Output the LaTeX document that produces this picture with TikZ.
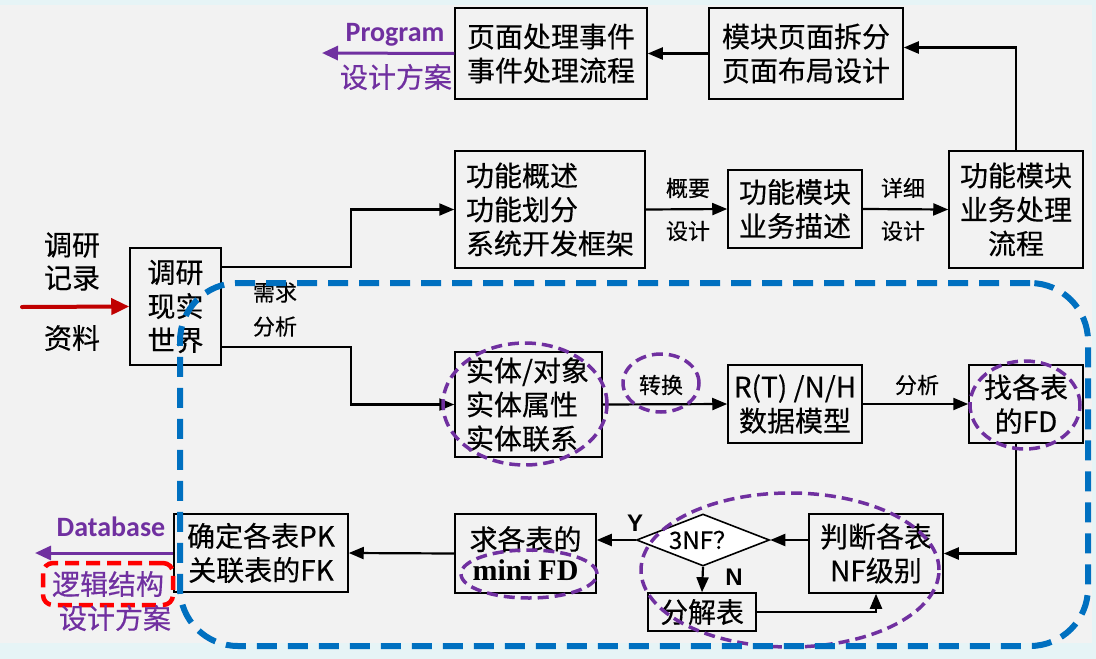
\documentclass[tikz,border=0pt]{standalone}
\usepackage{fontspec}
\setmainfont{Noto Sans CJK SC}[FakeBold=0.4]
\newfontfamily\engb{Carlito}
\newfontfamily\serifb{Liberation Serif}
\newfontfamily\arialb{Liberation Sans}
\usetikzlibrary{arrows.meta, shapes.geometric}
\definecolor{bgcol}{HTML}{F2F2F2}
\definecolor{edgecol}{HTML}{E6F4F6}
\definecolor{purplecol}{HTML}{7030A0}
\definecolor{zonecol}{HTML}{0070C0}
\definecolor{incol}{HTML}{C00000}
\definecolor{markcol}{HTML}{FF0000}
\tikzset{
  bxnode/.style={rectangle, draw, line width=1.5pt, inner sep=0pt, align=center, font=\fontsize{28}{34}\selectfont},
  lbnode/.style={bxnode, align=left, inner xsep=11pt},
  dcnode/.style={diamond, draw, fill=white, line width=1.6pt, inner sep=0pt, font=\fontsize{24}{24}\selectfont},
  lbl/.style={font=\fontsize{22}{34}\selectfont, align=center},
  ynlbl/.style={font=\arialb\bfseries\fontsize{24}{24}\selectfont},
  pptext/.style={text=purplecol, font=\fontsize{28}{30}\selectfont},
  ppbold/.style={text=purplecol, font=\engb\bfseries\fontsize{28}{30}\selectfont},
  ring/.style={ellipse, draw=purplecol, line width=3.5pt, dash pattern=on 11pt off 6pt, inner sep=0pt},
  arr/.style={-{Triangle[length=15pt,width=12pt]}, line width=2.2pt},
  outarr/.style={-{Triangle[length=16pt,width=14pt]}, line width=3pt, draw=purplecol},
}

\begin{document}
\begin{tikzpicture}[x=1pt, y=-1pt]
  \useasboundingbox (0,0) rectangle (1096,659);
  \fill[edgecol] (0,0) rectangle (1096,659);
  \fill[bgcol] (0,5) rectangle (1092,643);

  % boxes
  \node[bxnode, minimum width=192pt, minimum height=91pt] (pg) at (551,53.5) {页面处理事件\\事件处理流程};
  \node[bxnode, minimum width=194pt, minimum height=91pt] (mk) at (806,53.5) {模块页面拆分\\页面布局设计};
  \node[lbnode, text width=168pt, minimum height=117pt] (gn) at (550,209.5) {功能概述\\功能划分\\系统开发框架};
  \node[bxnode, minimum width=134pt, minimum height=78pt] (ms) at (795,209) {功能模块\\业务描述};
  \node[bxnode, minimum width=134pt, minimum height=117pt] (yw) at (1016,209.5) {功能模块\\业务处理\\流程};
  \node[bxnode, minimum width=91pt, minimum height=117pt] (dy) at (175.5,306.5) {调研\\现实\\世界};
  \node[lbnode, text width=125pt, minimum height=105pt] (st) at (528.5,404.5) {实体/对象\\实体属性\\实体联系};
  \node[bxnode, minimum width=134pt, minimum height=78pt] (rt) at (795,404) {R(T) /N/H\\数据模型};
  \node[bxnode, minimum width=114pt, minimum height=78pt] (fd) at (1026,404) {找各表\\的FD};
  \node[bxnode, minimum width=134pt, minimum height=79pt] (pd) at (876,553.5) {判断各表\\NF级别};
  \node[dcnode, minimum width=133pt, minimum height=52pt, aspect=2.56] (nf) at (703,540) {3NF？};
  \node[bxnode, minimum width=108pt, minimum height=38pt] (fj) at (702,612) {分解表};
  \node[bxnode, minimum width=141pt, minimum height=79pt, font=\fontsize{28}{31}\selectfont] (qg) at (525.5,553.5) {求各表的\\{\serifb\bfseries\fontsize{30}{31}\selectfont mini FD}};
  \node[bxnode, minimum width=174pt, minimum height=78pt] (qd) at (261,553) {确定各表PK\\关联表的FK};

  % input side
  \node[font=\fontsize{28}{33}\selectfont, align=center] (srcnote) at (72,261.5) {调研\\记录};
  \node[font=\fontsize{28}{33}\selectfont] (srcdata) at (72,338) {资料};
  \coordinate (srcin) at (22,307);
  \draw[-{Triangle[length=18pt,width=16pt]}, line width=4pt, draw=incol, line cap=round] (srcin) -- (dy.west);

  % connectors
  \draw[arr] ([yshift=-20pt]dy.north east) -- ++(129,0) |- (gn.west);
  \draw[arr] ([yshift=19pt]dy.south east) -- ++(129,0) |- (st.west);
  \node[lbl] (xqfx) at (275,309.5) {需求\\分析};
  \draw[arr] (gn.east) -- (ms.west);
  \node[lbl] (gyup) at (688,188) {概要};
  \node[lbl] (gydn) at (688,231) {设计};
  \draw[arr] (ms.east) -- (yw.west);
  \node[lbl] (xxup) at (903,188) {详细};
  \node[lbl] (xxdn) at (903,231) {设计};
  \draw[arr] (yw.north) |- ([yshift=6pt]mk.east);
  \draw[arr] (mk.west) -- (pg.east);
  \draw[arr] (st.east) -- (rt.west);
  \node[lbl] (zh) at (661,385) {转换};
  \draw[arr] (rt.east) -- (fd.west);
  \node[lbl] (fx) at (917,385) {分析};
  \draw[arr] ([xshift=-10pt]fd.south) |- (pd.east);
  \draw[arr] (pd.west |- nf.east) -- (nf.east);
  \draw[arr] (nf.west) -- (nf.west -| qg.east);
  \node[ynlbl] (yes) at (635,523) {Y};
  \draw[arr] (nf.south) -- (fj.north);
  \node[ynlbl] (no) at (734,577) {N};
  \draw[arr] (fj.east) -| (pd.south);
  \draw[arr] (qg.west) -- (qd.east);

  % outputs
  \coordinate (pgout) at (322,53);
  \draw[outarr] (pg.west) -- (pgout);
  \node[ppbold] (prog) at (395,35) {Program};
  \node[pptext] (progplan) at (396,77) {设计方案};
  \coordinate (dbout) at (35,553);
  \draw[outarr] (qd.west) -- (dbout);
  \node[ppbold] (dbase) at (111,527) {Database};
  \node[pptext, draw=markcol, line width=4.5pt, dash pattern=on 14pt off 7pt, rounded corners=10pt, minimum width=130pt, minimum height=42pt, inner sep=0pt] (ljjg) at (108,584) {逻辑结构};
  \node[pptext] (dbplan) at (115,618) {设计方案};

  % highlight rings
  \node[ring, minimum width=164pt, minimum height=122pt] (string) at (525,404) {};
  \node[ring, minimum width=76pt, minimum height=58pt] (zhring) at (661,383) {};
  \node[ring, minimum width=110pt, minimum height=88pt] (fdring) at (1025,405) {};
  \node[ring, minimum width=136pt, minimum height=48pt] (mfring) at (529,574) {};
  \node[ring, minimum width=298pt, minimum height=154pt] (nfring) at (790,570) {};

  % database zone
  \node[draw=zonecol, line width=6pt, dash pattern=on 20pt off 11pt, rounded corners=58pt, minimum width=908pt, minimum height=363pt, inner sep=0pt] (dbzone) at (634,464.5) {};
\end{tikzpicture}
\end{document}
